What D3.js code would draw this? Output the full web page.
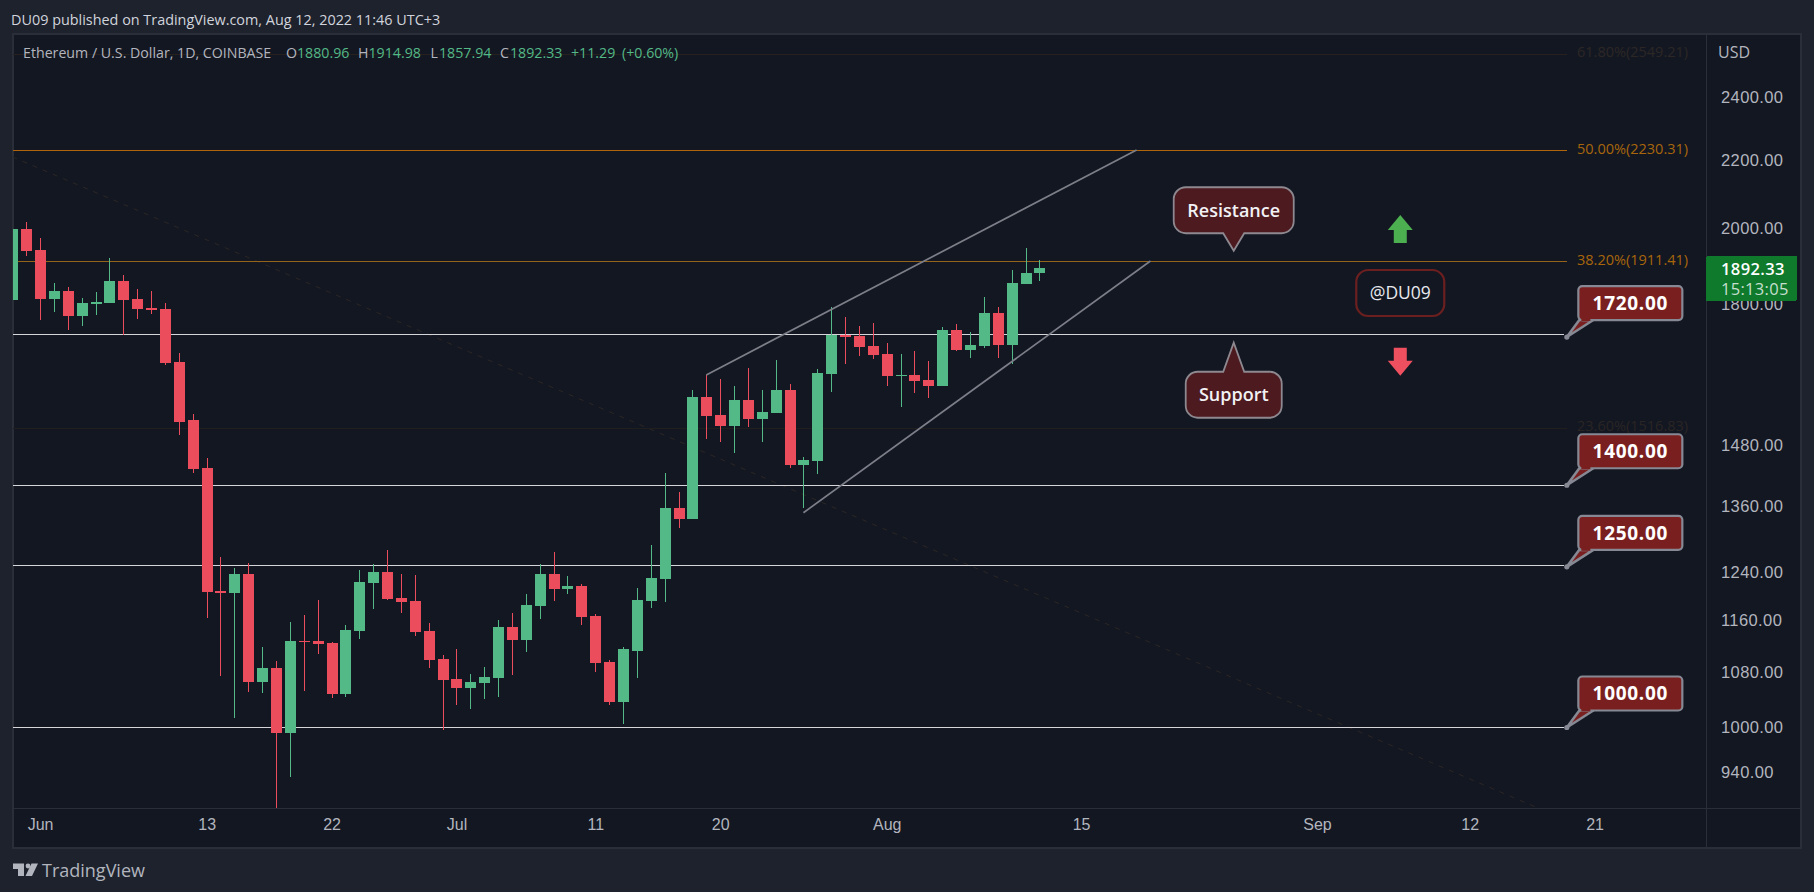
<!DOCTYPE html>
<html>
<head>
<meta charset="utf-8">
<title>Ethereum / U.S. Dollar, 1D</title>
<script src="https://cdn.jsdelivr.net/npm/d3@7"></script>
<style>
  html, body { margin: 0; padding: 0; background: #1e222d; overflow: hidden; }
  svg { display: block; font-family: "Open Sans", "Noto Sans", sans-serif; }
  .crisp { shape-rendering: crispEdges; }
</style>
</head>
<body>
<svg id="chart" width="1814" height="892"></svg>
<script>
// Daily ETH/USD candles, first session 30 May 2022
const firstSession = "2022-05-30";
const opens = [1810.8,1998.4,1941,1813.3,1833.5,1771,1800.8,1803.3,1859.2,1813.3,1790.8,1788.3,1661.3,1532.8,1434,1208.7,1205.4,1237.6,1065.3,1086.1,992.4,1127.7,1127.7,1124.5,1047.6,1143.4,1222.3,1241,1197,1192,1143.4,1099.8,1069.7,1056.4,1063.8,1071.2,1149.8,1129.2,1183.8,1237.6,1212.1,1217.2,1167.5,1095.2,1036,1112.2,1192,1229.1,1356.5,1335.9,1582.6,1543.5,1519.9,1576,1535,1547.8,1598.1,1440,1448,1634,1725,1722.5,1698.7,1680,1629.5,1631.8,1620.4,1606.9,1736.9,1689.3,1698.7,1778.4,1701.1,1851.5,1880.96];
const highs = [2016,2017.9,1973.6,1854.1,1843.8,1815.8,1831,1919.5,1874.7,1838.7,1833.5,1803.3,1682.3,1545.6,1454,1267.2,1248,1256.6,1118.3,1096.8,1157.8,1169.1,1193.7,1126.1,1153,1244.5,1254.9,1279.6,1237.6,1235.9,1156.2,1106,1115.2,1077,1087.6,1161,1172.4,1203.7,1254.9,1276,1234.2,1220.6,1170.7,1098.3,1118.3,1213.8,1288.5,1424,1387,1598.1,1631.8,1622.6,1606.9,1647.7,1598.1,1666,1611.5,1456,1645.4,1793.3,1768.6,1746.7,1753.9,1705.8,1680,1687,1663.7,1744.2,1751.4,1731.1,1818.4,1793.3,1887.8,1946.4,1914.98];
const lows = [1800,1924.9,1761.2,1780.9,1736.9,1746.6,1773.5,1803.3,1724.9,1763.6,1775.9,1654.4,1501.2,1424,1164.2,1074.2,1013.3,1050.6,1049.1,881,933.6,1052,1107.4,1041.8,1043.3,1130.8,1178.9,1193.7,1172.4,1135.5,1086.1,996.5,1031.7,1026,1040.4,1043.3,1075.7,1110.6,1162.6,1192,1203.7,1153,1080.1,1031.7,1004.9,1071.2,1180.6,1190.4,1319.3,1335.9,1492.9,1486.7,1464.2,1517.8,1486.7,1547.8,1434,1356.5,1422,1593.7,1656.8,1675,1668.3,1606.9,1560.9,1591.4,1580.4,1606.9,1687,1670.7,1694,1670.7,1656.8,1851.5,1857.94];
const closes = [1998.4,1938.3,1813.3,1833.5,1771,1803.3,1805.8,1859.2,1810.8,1788.3,1785.8,1659,1528.5,1432,1207,1205.4,1237.6,1065.3,1086.1,992.4,1127.7,1126.2,1122.9,1047.6,1145,1224,1241,1195.4,1190.4,1141.8,1098.3,1068.2,1056.4,1065.3,1072.7,1149.8,1129.2,1185.5,1237.6,1212.1,1217.2,1165.9,1093.7,1036,1115.2,1193.7,1230.8,1356.5,1335.9,1582.6,1541.4,1519.9,1576,1535,1550,1598.1,1440,1450,1636.3,1725,1720.1,1696.4,1677.6,1629.5,1631.8,1618.2,1606.9,1736.9,1689.3,1701.1,1778.4,1701.1,1854.1,1881.04,1892.33];

// Price axis and time axis labels
const priceTicks = [2400,2200,2000,1800,1480,1360,1240,1160,1080,1000,940];
const priceTickText = d => d.toFixed(2);
const timeTicks = ["2022-06-01","2022-06-13","2022-06-22","2022-07-01","2022-07-11","2022-07-20","2022-08-01","2022-08-15","2022-09-01","2022-09-12","2022-09-21"];
const timeTickText = ["Jun","13","22","Jul","11","20","Aug","15","Sep","12","21"];

// Fibonacci retracement levels
const fibLabels = ["61.80%(2549.21)","50.00%(2230.31)","38.20%(1911.41)","23.60%(1516.83)"];
const fibPrices = [2549.21,2230.31,1911.41,1516.83];
const fibColors = ["#26211f","#b0640c","#96631a","#211e1f"];
const fibTextColors = ["#2c2725","#a8660b","#a8660b","#2a2524"];

// Hand-drawn horizontal lines and the price callouts sitting at their right end
const drawnLevels = [1727,1400,1254,1001];
const calloutPrices = [1720,1400,1250,1000];

// Drawing tools: [date, price] pairs
const fibDiagonal = [["2022-05-30",2209],["2022-09-19",879]];
const wedgeUpper = [["2022-07-19",1631.8],["2022-08-19",2230.31]];
const wedgeLower = [["2022-07-26",1347.6],["2022-08-20",1911.41]];
const levelsEnd = "2022-09-19";

// Text notes anchored by date and price
const noteDate = "2022-08-26";
const resistanceTip = 1939;
const supportTip = 1706.4;
const arrowDate = "2022-09-07";
const arrowUpTip = 2037.6;
const arrowDownTip = 1630;
const watermarkPrice = 1828.5;

const colors = {
  frame: "#1e222d", plot: "#131722", border: "#2a2e39",
  up: "#53b987", down: "#eb4d5c", axis: "#b2b5be", header: "#d1d4dc",
  level: "#d6d6da", wedge: "#7d7f88", note: "#4c1a1f", noteEdge: "#8e8990",
  tag: "#7a1f1f", tagEdge: "#868993", lastPrice: "#107a2c"
};

const W = 1814, H = 892;
const plot = { left: 13, right: 1706, top: 35, bottom: 808 };
const day = s => new Date(s + "T00:00:00Z");

const svg = d3.select("#chart");
const x = d3.scaleUtc().domain([day("2022-05-30"), day("2022-09-21")]).range([12.3, 1594.6]);
const y = d3.scaleLog().domain([1000, 2549.21]).range([727.5, 727.5 - 720 * Math.log(2.54921)]);

const candles = opens.map((o, i) => ({
  date: d3.utcDay.offset(day(firstSession), i), o, h: highs[i], l: lows[i], c: closes[i]
}));

// Page frame and panes
svg.append("rect").attr("width", W).attr("height", H).attr("fill", colors.frame);
svg.append("rect").attr("class", "crisp").attr("x", 12).attr("y", 33).attr("width", 1790).attr("height", 816).attr("fill", colors.border);
svg.append("rect").attr("class", "crisp").attr("x", 14).attr("y", 35).attr("width", 1786).attr("height", 812).attr("fill", colors.plot);
svg.append("line").attr("class", "crisp").attr("x1", 14).attr("x2", 1800).attr("y1", 808.5).attr("y2", 808.5).attr("stroke", colors.border);
svg.append("line").attr("class", "crisp").attr("x1", 1706.5).attr("x2", 1706.5).attr("y1", 35).attr("y2", 847).attr("stroke", colors.border);

svg.append("defs").append("clipPath").attr("id", "plotClip").append("rect")
  .attr("x", plot.left).attr("y", plot.top).attr("width", plot.right - plot.left).attr("height", plot.bottom - plot.top);
const pane = svg.append("g").attr("clip-path", "url(#plotClip)");

// Fibonacci level lines and the dashed trend of the retracement
pane.append("path")
  .attr("d", d3.line().x(d => x(day(d[0]))).y(d => y(d[1]))(fibDiagonal))
  .attr("fill", "none").attr("stroke", "#2b2624").attr("stroke-width", 1).attr("stroke-dasharray", "5 6");
pane.selectAll(".fib").data(fibPrices).join("line").attr("class", "fib crisp")
  .attr("x1", plot.left).attr("x2", x(day(levelsEnd)))
  .attr("y1", d => Math.round(y(d)) + 0.5).attr("y2", d => Math.round(y(d)) + 0.5)
  .attr("stroke", (d, i) => fibColors[i]);

// Support and resistance lines
pane.selectAll(".level").data(drawnLevels).join("line").attr("class", "level crisp")
  .attr("x1", plot.left).attr("x2", x(day(levelsEnd)) - 3)
  .attr("y1", d => Math.round(y(d)) + 0.5).attr("y2", d => Math.round(y(d)) + 0.5)
  .attr("stroke", colors.level);

// Candles
const candleColor = d => d.c >= d.o ? colors.up : colors.down;
const cg = pane.append("g").attr("class", "crisp");
cg.selectAll(".wick").data(candles).join("rect").attr("class", "wick")
  .attr("x", d => Math.round(x(d.date)))
  .attr("width", 1)
  .attr("y", d => Math.round(y(d.h)))
  .attr("height", d => Math.max(1, Math.round(y(d.l)) - Math.round(y(d.h))))
  .attr("fill", candleColor);
cg.selectAll(".body").data(candles).join("rect").attr("class", "body")
  .attr("x", d => Math.round(x(d.date)) - 5)
  .attr("width", 11)
  .attr("y", d => Math.round(y(Math.max(d.o, d.c))))
  .attr("height", d => Math.max(1, Math.round(y(Math.min(d.o, d.c))) - Math.round(y(Math.max(d.o, d.c)))))
  .attr("fill", candleColor);

// Rising wedge
pane.selectAll(".wedge").data([wedgeUpper, wedgeLower]).join("path").attr("class", "wedge")
  .attr("d", d3.line().x(d => x(day(d[0]))).y(d => y(d[1])))
  .attr("fill", "none").attr("stroke", colors.wedge).attr("stroke-width", 1.7);

// Fibonacci labels
svg.selectAll(".fibLabel").data(fibLabels).join("text").attr("class", "fibLabel")
  .attr("x", 1577).attr("y", (d, i) => y(fibPrices[i]) - 1.5).attr("dy", "0.35em")
  .attr("font-size", 14.5).attr("fill", (d, i) => fibTextColors[i]).text(d => d);

// Speech-bubble notes
function bubble(tipPrice, text, w, h, below) {
  const tx = x(day(noteDate)), ty = y(tipPrice);
  const half = 10.5, tail = 17.5, r = 12;
  const top = below ? ty + 29 : ty - tail - h;
  const bot = top + h, L = tx - w / 2, R = tx + w / 2;
  const p = d3.path();
  p.moveTo(L + r, top);
  if (below) { p.lineTo(tx - half, top); p.lineTo(tx, ty); p.lineTo(tx + half, top); }
  p.lineTo(R - r, top); p.arcTo(R, top, R, top + r, r);
  p.lineTo(R, bot - r); p.arcTo(R, bot, R - r, bot, r);
  if (!below) { p.lineTo(tx + half, bot); p.lineTo(tx, ty); p.lineTo(tx - half, bot); }
  p.lineTo(L + r, bot); p.arcTo(L, bot, L, bot - r, r);
  p.lineTo(L, top + r); p.arcTo(L, top, L + r, top, r);
  p.closePath();
  svg.append("path").attr("d", p.toString()).attr("fill", colors.note).attr("stroke", colors.noteEdge).attr("stroke-width", 1.8);
  svg.append("text").attr("x", tx).attr("y", (top + bot) / 2).attr("dy", "0.35em")
    .attr("text-anchor", "middle").attr("font-size", 18).attr("font-weight", 600).attr("fill", "#f2f2f4").text(text);
}
bubble(resistanceTip, "Resistance", 120, 46, false);
bubble(supportTip, "Support", 96, 46, true);

// Author tag
const tagX = x(day(arrowDate)), tagY = y(watermarkPrice);
svg.append("rect").attr("x", tagX - 44).attr("y", tagY - 23).attr("width", 88).attr("height", 46).attr("rx", 12)
  .attr("fill", colors.plot).attr("stroke", "#6b1f1f").attr("stroke-width", 2.2);
svg.append("text").attr("x", tagX).attr("y", tagY).attr("dy", "0.35em").attr("text-anchor", "middle")
  .attr("font-size", 17.5).attr("font-weight", 500).attr("fill", "#e8e9ee").text("@DU09");

// Direction arrows
const arrow = (tipY, dir, fill) => {
  const p = d3.path();
  p.moveTo(tagX, tipY);
  p.lineTo(tagX + 12.5, tipY + dir * 15);
  p.lineTo(tagX + 6.5, tipY + dir * 15);
  p.lineTo(tagX + 6.5, tipY + dir * 28);
  p.lineTo(tagX - 6.5, tipY + dir * 28);
  p.lineTo(tagX - 6.5, tipY + dir * 15);
  p.lineTo(tagX - 12.5, tipY + dir * 15);
  p.closePath();
  svg.append("path").attr("d", p.toString()).attr("fill", fill);
};
arrow(y(arrowUpTip), 1, "#4caf50");
arrow(y(arrowDownTip), -1, "#ef5060");

// Price callouts
const calloutX = x(day(levelsEnd));
calloutPrices.forEach(price => {
  const cy = y(price);
  const bx = calloutX + 11.5, by = cy - 51, bw = 104, bh = 34;
  const g = svg.append("g");
  const tail = d3.path();
  tail.moveTo(bx + 1, by + bh);
  tail.lineTo(calloutX, cy);
  tail.lineTo(bx + 15, by + bh);
  tail.closePath();
  g.append("path").attr("d", tail.toString()).attr("fill", colors.tag).attr("stroke", colors.tagEdge)
    .attr("stroke-width", 2.6).attr("stroke-linejoin", "round");
  g.append("rect").attr("x", bx).attr("y", by).attr("width", bw).attr("height", bh).attr("rx", 4)
    .attr("fill", colors.tag).attr("stroke", colors.tagEdge).attr("stroke-width", 2.2);
  g.append("rect").attr("x", bx + 3).attr("y", by + bh - 2).attr("width", 9).attr("height", 3).attr("fill", colors.tag);
  g.append("circle").attr("cx", calloutX).attr("cy", cy).attr("r", 2.6).attr("fill", colors.tagEdge);
  g.append("text").attr("x", bx + bw / 2).attr("y", by + bh / 2).attr("dy", "0.36em")
    .attr("text-anchor", "middle").attr("font-size", 19).attr("font-weight", 700)
    .attr("letter-spacing", 0.7).attr("fill", "#ffffff")
    .text(price.toFixed(2));
});

// Axes
const yAxis = d3.axisRight(y).tickValues(priceTicks).tickFormat(priceTickText).tickSize(0).tickPadding(14);
svg.append("g").attr("transform", "translate(1707,0)").call(yAxis)
  .call(g => g.select(".domain").remove())
  .call(g => g.selectAll("text").attr("fill", colors.axis).attr("font-size", 16.5)
    .attr("letter-spacing", 0.4).attr("font-family", "inherit"));

const xAxis = d3.axisBottom(x).tickValues(timeTicks.map(day))
  .tickFormat((d, i) => timeTickText[i]).tickSize(0).tickPadding(11);
svg.append("g").attr("transform", "translate(0,808)").call(xAxis)
  .call(g => g.select(".domain").remove())
  .call(g => g.selectAll("text").attr("fill", colors.axis).attr("font-size", 16).attr("font-family", "inherit"));

svg.append("text").attr("x", 1718).attr("y", 52).attr("dy", "0.35em").attr("font-size", 16).attr("fill", colors.axis).text("USD");

// Last price tag
const lastClose = closes[closes.length - 1];
svg.append("rect").attr("class", "crisp").attr("x", 1706).attr("y", 256).attr("width", 91).attr("height", 45).attr("rx", 2).attr("fill", colors.lastPrice);
svg.append("text").attr("x", 1721).attr("y", 269.5).attr("dy", "0.35em").attr("font-size", 16.5).attr("font-weight", 600)
  .attr("letter-spacing", 0.4).attr("fill", "#ffffff").text(lastClose.toFixed(2));
svg.append("text").attr("x", 1721).attr("y", 289).attr("dy", "0.35em").attr("font-size", 16.5)
  .attr("letter-spacing", 0.3).attr("fill", "#c6dfce").text("15:13:05");

// Symbol legend
const legendParts = [
  ["Ethereum / U.S. Dollar, 1D, COINBASE", colors.axis, 23],
  ["O", colors.axis, 286], ["1880.96", colors.up, 297],
  ["H", colors.axis, 358], ["1914.98", colors.up, 368.5],
  ["L", colors.axis, 430.5], ["1857.94", colors.up, 439],
  ["C", colors.axis, 500], ["1892.33", colors.up, 510],
  ["+11.29", colors.up, 571], ["(+0.60%)", colors.up, 622]
];
svg.selectAll(".legend").data(legendParts).join("text").attr("class", "legend")
  .attr("x", d => d[2]).attr("y", 53).attr("dy", "0.35em").attr("font-size", 14.2)
  .attr("fill", d => d[1]).text(d => d[0]);

// Publication line and logo
svg.append("text").attr("x", 11).attr("y", 20).attr("dy", "0.35em").attr("font-size", 14.4)
  .attr("fill", colors.header).text("DU09 published on TradingView.com, Aug 12, 2022 11:46 UTC+3");
svg.append("path").attr("fill", colors.axis)
  .attr("d", "M13 863.5H24V876H18V869H13Z M31.5 863.5H38L32 876H25.5Z");
svg.append("circle").attr("cx", 28).attr("cy", 866).attr("r", 2.4).attr("fill", colors.axis);
svg.append("text").attr("x", 42).attr("y", 871).attr("dy", "0.35em").attr("font-size", 18)
  .attr("fill", colors.axis).text("TradingView");
</script>
</body>
</html>
